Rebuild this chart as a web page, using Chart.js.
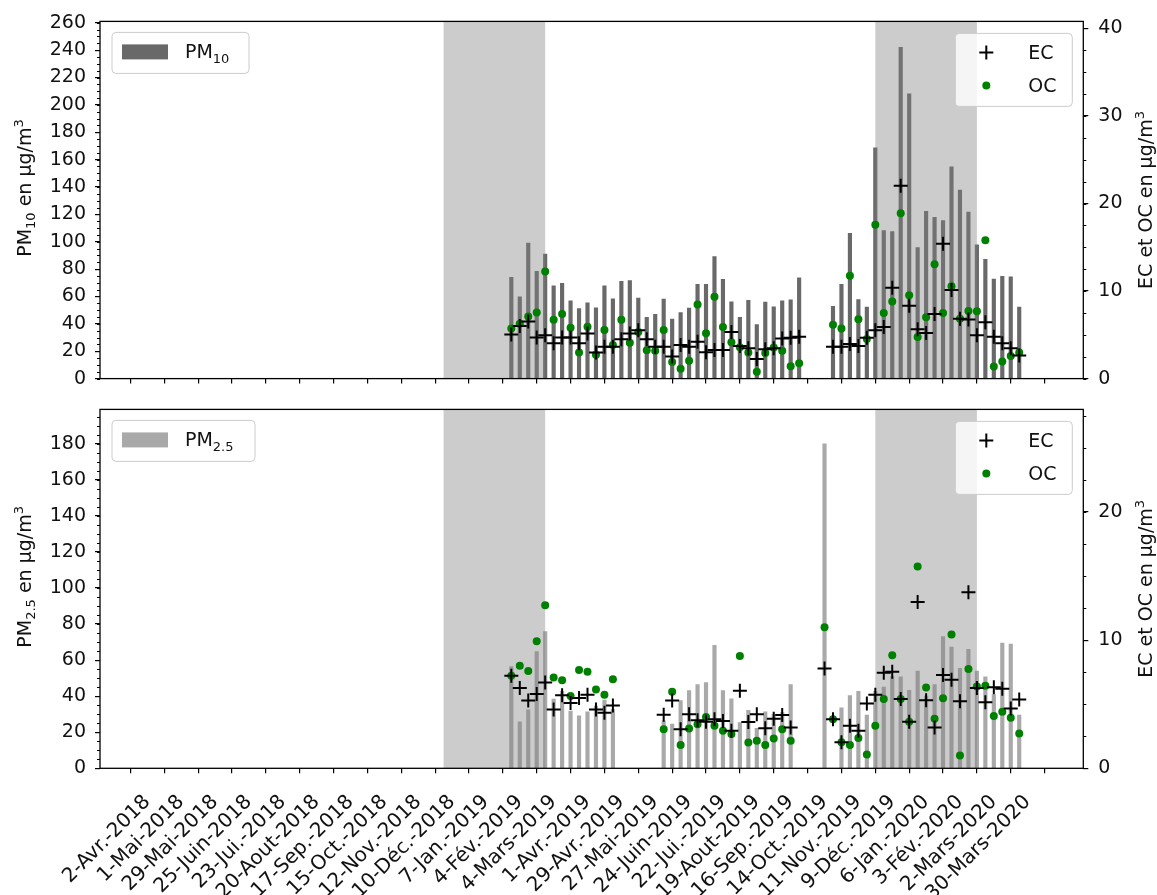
<!DOCTYPE html>
<html>
<head>
<meta charset="utf-8">
<script src="https://cdn.jsdelivr.net/npm/chart.js@4.4.0/dist/chart.umd.min.js"></script>
<style>
  body { margin: 0; background: #fff; }
  #wrap { position: relative; width: 1157px; height: 895px; }
  canvas { position: absolute; left: 0; }
  #topChart { top: 0; }
  #bottomChart { top: 388px; }
</style>
</head>
<body>
<div id="wrap">
  <canvas id="topChart" width="1157" height="400"></canvas>
  <canvas id="bottomChart" width="1157" height="507"></canvas>
</div>
<script>
// x axis: weeks counted from 2-Avr.-2018
const tickWeeks = [0, 4, 8, 12, 16, 20, 24, 28, 32, 36, 40, 44, 48, 52, 56, 60, 64, 68, 72, 76, 80, 84, 88, 92, 96, 100, 104];
const tickLabels = ['2-Avr.-2018', '1-Mai-2018', '29-Mai-2018', '25-Juin-2018', '23-Jui.-2018', '20-Aout-2018',
  '17-Sep.-2018', '15-Oct.-2018', '12-Nov.-2018', '10-Déc.-2018', '7-Jan.-2019', '4-Fév.-2019', '4-Mars-2019',
  '1-Avr.-2019', '29-Avr.-2019', '27-Mai-2019', '24-Juin-2019', '22-Jui.-2019', '19-Aout-2019', '16-Sep.-2019',
  '14-Oct.-2019', '11-Nov.-2019', '9-Déc.-2019', '6-Jan.-2020', '3-Fév.-2020', '2-Mars-2020', '30-Mars-2020'];

// winter periods (grey bands), in weeks
const winterBands = [[35, 47], [86, 98]];

// one sample per week
const sampleWeeks = [43, 44, 45, 46, 47, 48, 49, 50, 51, 52,
  53, 54, 55, 56, 57, 58, 59, 60, 61, 62,
  63, 64, 65, 66, 67, 68, 69, 70, 71, 72,
  73, 74, 75, 76, 77, 78, 79, 80, 81, 82,
  83, 84, 85, 86, 87, 88, 89, 90, 91, 92,
  93, 94, 95, 96, 97, 98, 99, 100, 101, 102,
  103];

const pm10 = [74, 59.7, 99.1, 78.4, 91, 67.8, 69.7, 56.8, 51.1, 55.4,
  51.8, 67.8, 58.3, 71, 71.7, 58.8, 44.7, 47, 58.1, 43.4,
  48.2, 51.6, 68.8, 68.8, 89.1, 72.6, 56.1, 44.7, 57.1, 39.4,
  55.9, 52.5, 56.8, 57.6, 73.6, null, null, null, 52.8, 68.8,
  106.1, 57.8, 52.3, 168.7, 108.2, 107.5, 242, 208.1, 95.8, 122.3,
  117.8, 115.4, 154.8, 137.8, 121.6, 97.7, 87.2, 72.8, 74.8, 74.3,
  52.3];
const ecTop = [5.04, 6.0, 6.53, 4.7, 4.96, 4.03, 4.7, 4.7, 4.03, 5.15,
  2.98, 3.65, 3.65, 4.5, 5.15, 5.52, 4.5, 3.65, 3.65, 2.53,
  3.84, 3.65, 4.21, 3.02, 3.28, 3.28, 5.33, 3.73, 3.47, 2.24,
  3.36, 3.47, 4.59, 4.66, 4.77, null, null, null, 3.65, 3.65,
  3.95, 3.73, 4.66, 5.52, 5.89, 10.37, 22.02, 8.32, 5.63, 5.22,
  7.39, 15.41, 10.11, 6.83, 6.75, 4.96, 6.45, 4.77, 4.03, 3.47,
  2.64];
const ocTop = [5.71, 6.27, 7.09, 7.54, 12.24, 6.72, 7.39, 5.82, 2.98, 5.93,
  2.72, 5.55, 3.84, 6.72, 4.1, 5.33, 3.25, 3.17, 5.55, 1.9,
  1.12, 2.05, 8.47, 5.18, 9.36, 5.89, 4.14, 3.58, 2.98, 0.78,
  2.91, 3.54, 3.17, 1.41, 1.75, null, null, null, 6.16, 5.71,
  11.76, 6.79, 4.51, 17.58, 7.5, 8.8, 18.88, 9.52, 4.74, 7.01,
  13.06, 7.5, 10.56, 6.83, 7.73, 7.68, 15.79, 1.38, 1.94, 2.58,
  2.98];

const pm25 = [56.4, 25.8, 32.5, 64.7, 75.8, 38.4, 42.7, 31.8, 29.1, 31.3,
  34.5, 37.8, 32.7, null, null, null, null, null, 26.4, 24.5,
  37.6, 43.1, 46.4, 47.5, 68.2, 43.1, 38.5, 25.3, 32.2, 22.2,
  31.3, 30, 30.9, 46.4, null, null, null, 180, null, 33.6,
  40.4, 42.7, 29.5, 42.7, 45, 50.9, 50.7, 43.3, 54, 40,
  46.4, 73.1, 67.3, 55.4, 66, 54, 50.7, 40.9, 69.4, 68.9,
  29.5];
const ecBottom = [7.23, 6.26, 5.28, 5.79, 6.69, 4.59, 5.69, 5.1, 5.48, 5.74,
  4.59, 4.33, 4.9, null, null, null, null, null, 4.17, 5.28,
  3.05, 4.21, 3.74, 3.64, 3.82, 3.69, 2.92, 6.05, 3.62, 4.21,
  3.13, 3.87, 4.15, 3.18, null, null, null, 7.79, 3.82, 2.03,
  3.31, 2.92, 5.05, 5.74, 7.46, 7.54, 5.41, 3.64, 12.97, 5.31,
  3.18, 7.28, 6.9, 5.23, 13.74, 6.26, 5.15, 6.33, 6.21, 4.67,
  5.36];
const ocBottom = [7.23, 8.0, 7.59, 9.92, 12.72, 7.08, 6.87, 5.64, 7.67, 7.54,
  6.15, 5.74, 6.95, null, null, null, null, null, 3.05, 5.97,
  1.82, 3.1, 3.44, 4.0, 3.31, 2.92, 2.67, 8.77, 2.02, 2.15,
  1.82, 2.33, 3.05, 2.15, null, null, null, 11.0, 3.82, 2.03,
  1.82, 2.36, 1.08, 3.31, 5.41, 8.82, 5.41, 3.64, 15.74, 6.31,
  3.87, 5.46, 10.44, 1.0, 7.74, 6.38, 6.44, 4.08, 4.41, 3.95,
  2.72];

const FONT = '"DejaVu Sans", sans-serif';
const FS = 19;
Chart.defaults.font.family = FONT;
Chart.defaults.font.size = FS;
Chart.defaults.color = '#111';

const pts = vals => sampleWeeks.map((w, i) => ({ x: w, y: vals[i] }));

// text pieces, some drawn as subscript / superscript
function richWidth(ctx, parts) {
  let w = 0;
  parts.forEach(p => {
    ctx.font = (p.s ? Math.round(FS * 0.7) : FS) + 'px ' + FONT;
    w += ctx.measureText(p.t).width;
  });
  return w;
}
function drawRich(ctx, x, y, parts) {
  parts.forEach(p => {
    ctx.font = (p.s ? Math.round(FS * 0.7) : FS) + 'px ' + FONT;
    const dy = p.s === 'sub' ? 0.22 * FS : p.s === 'sup' ? -0.42 * FS : 0;
    ctx.fillText(p.t, x, y + dy);
    x += ctx.measureText(p.t).width;
  });
}
function drawVertical(ctx, cx, cy, parts) {
  ctx.save();
  ctx.translate(cx, cy);
  ctx.rotate(-Math.PI / 2);
  ctx.textBaseline = 'alphabetic';
  ctx.textAlign = 'left';
  drawRich(ctx, -richWidth(ctx, parts) / 2, 0.36 * FS, parts);
  ctx.restore();
}

function legendBox(ctx, x, y, w, h) {
  ctx.beginPath();
  ctx.roundRect(x, y, w, h, 4);
  ctx.fillStyle = 'rgba(255,255,255,0.8)';
  ctx.fill();
  ctx.strokeStyle = '#cccccc';
  ctx.lineWidth = 1;
  ctx.stroke();
}

const extras = {
  id: 'extras',
  afterDatasetDraw(chart, args) {
    if (args.index !== 0) return;
    const { ctx, chartArea: a, scales: { x } } = chart;
    ctx.save();
    ctx.fillStyle = 'rgba(128,128,128,0.4)';
    winterBands.forEach(b => {
      const x0 = x.getPixelForValue(b[0]);
      const x1 = x.getPixelForValue(b[1]);
      ctx.fillRect(x0, a.top, x1 - x0, a.bottom - a.top);
    });
    ctx.restore();
  },
  afterDraw(chart, args, opts) {
    const { ctx, chartArea: a, scales } = chart;
    ctx.save();
    // minor ticks
    ctx.strokeStyle = '#000';
    ctx.lineWidth = 1;
    for (let v = 0; v <= scales.y.max; v += 5) {
      const py = Math.round(scales.y.getPixelForValue(v)) + 0.5;
      ctx.beginPath(); ctx.moveTo(a.left - 3, py); ctx.lineTo(a.left, py); ctx.stroke();
    }
    for (let v = 0; v <= scales.y1.max; v += 2.5) {
      const py = Math.round(scales.y1.getPixelForValue(v)) + 0.5;
      ctx.beginPath(); ctx.moveTo(a.right, py); ctx.lineTo(a.right + 3, py); ctx.stroke();
    }
    // frame
    ctx.lineWidth = 1.3;
    ctx.strokeRect(a.left, a.top, a.right - a.left, a.bottom - a.top);

    // axis titles
    ctx.fillStyle = '#111';
    const cy = (a.top + a.bottom) / 2;
    drawVertical(ctx, 24, cy - 12, [{ t: 'PM' }, { t: opts.sub, s: 'sub' }, { t: ' en µg/m' }, { t: '3', s: 'sup' }]);
    drawVertical(ctx, a.right + 62, cy, [{ t: 'EC et OC en µg/m' }, { t: '3', s: 'sup' }]);

    // left legend (bars)
    const lx = a.left + 12, ly = a.top + 11;
    legendBox(ctx, lx, ly, opts.legendW, 41);
    ctx.fillStyle = opts.barColor;
    ctx.fillRect(lx + 10, ly + 12, 46, 15);
    ctx.fillStyle = '#111';
    ctx.textBaseline = 'alphabetic';
    ctx.textAlign = 'left';
    drawRich(ctx, lx + 73, ly + 26, [{ t: 'PM' }, { t: opts.sub, s: 'sub' }]);

    // right legend (EC / OC)
    const rx = a.right - 11 - 117, ry = a.top + 12;
    legendBox(ctx, rx, ry, 117, 73);
    ctx.strokeStyle = '#000';
    ctx.lineWidth = 2;
    ctx.beginPath();
    ctx.moveTo(rx + 24, ry + 19); ctx.lineTo(rx + 38, ry + 19);
    ctx.moveTo(rx + 31, ry + 12); ctx.lineTo(rx + 31, ry + 26);
    ctx.stroke();
    ctx.fillStyle = '#008000';
    ctx.beginPath(); ctx.arc(rx + 31, ry + 52, 4, 0, Math.PI * 2); ctx.fill();
    ctx.fillStyle = '#111';
    ctx.font = FS + 'px ' + FONT;
    ctx.fillText('EC', rx + 73, ry + 26);
    ctx.fillText('OC', rx + 73, ry + 59);
    ctx.restore();
  }
};

function makeChart(id, cfg) {
  const axisGrid = { display: true, drawOnChartArea: false, drawTicks: true, tickLength: 5, color: '#000', lineWidth: 1.2 };
  return new Chart(document.getElementById(id), {
    type: 'bar',
    data: {
      datasets: [
        { type: 'bar', label: cfg.barLabel, data: pts(cfg.bars), backgroundColor: cfg.barColor,
          barThickness: 3.5, yAxisID: 'y', order: 3 },
        { type: 'scatter', label: 'OC', data: pts(cfg.oc), yAxisID: 'y1', pointStyle: 'circle',
          pointRadius: 4, backgroundColor: '#008000', borderColor: '#008000', borderWidth: 0, order: 2 },
        { type: 'scatter', label: 'EC', data: pts(cfg.ec), yAxisID: 'y1', pointStyle: 'cross',
          pointRadius: 7, borderColor: '#000', borderWidth: 2, order: 1 }
      ]
    },
    options: {
      responsive: false,
      animation: false,
      layout: { padding: { top: cfg.padTop, left: 0, right: 0, bottom: 0 } },
      plugins: {
        legend: { display: false },
        tooltip: { enabled: false },
        extras: { barColor: cfg.barColor, sub: cfg.sub, legendW: cfg.legendW }
      },
      scales: {
        x: {
          type: 'linear', min: -5.59, max: 110.57, offset: false,
          grid: axisGrid, border: { display: false },
          ticks: {
            autoSkip: false, minRotation: 45, maxRotation: 45, padding: 17,
            font: { size: 20 },
            callback: (v, i) => cfg.showLabels ? tickLabels[i] : ''
          },
          afterBuildTicks: s => { s.ticks = tickWeeks.map(v => ({ value: v })); },
          afterFit: s => { s.height = cfg.xHeight; }
        },
        y: {
          position: 'left', min: 0, max: cfg.yMax,
          grid: axisGrid, border: { display: false },
          ticks: { padding: 9 },
          afterBuildTicks: s => { s.ticks = cfg.yTicks.map(v => ({ value: v })); },
          afterFit: s => { s.width = 100; }
        },
        y1: {
          position: 'right', min: 0, max: cfg.y1Max,
          grid: axisGrid, border: { display: false },
          ticks: { padding: 10 },
          afterBuildTicks: s => { s.ticks = cfg.y1Ticks.map(v => ({ value: v })); },
          afterFit: s => { s.width = 73.7; }
        }
      }
    },
    plugins: [extras]
  });
}

makeChart('topChart', {
  bars: pm10, ec: ecTop, oc: ocTop, barColor: '#696969', barLabel: 'PM10', sub: '10', legendW: 137,
  yMax: 261, yTicks: [0, 20, 40, 60, 80, 100, 120, 140, 160, 180, 200, 220, 240, 260],
  y1Max: 40.8, y1Ticks: [0, 10, 20, 30, 40],
  padTop: 20, xHeight: 15.7, showLabels: false
});

makeChart('bottomChart', {
  bars: pm25, ec: ecBottom, oc: ocBottom, barColor: '#a9a9a9', barLabel: 'PM2.5', sub: '2.5', legendW: 143,
  yMax: 199.1, yTicks: [0, 20, 40, 60, 80, 100, 120, 140, 160, 180],
  y1Max: 28, y1Ticks: [0, 10, 20],
  padTop: 15.3, xHeight: 126.7, showLabels: true
});
</script>
</body>
</html>
